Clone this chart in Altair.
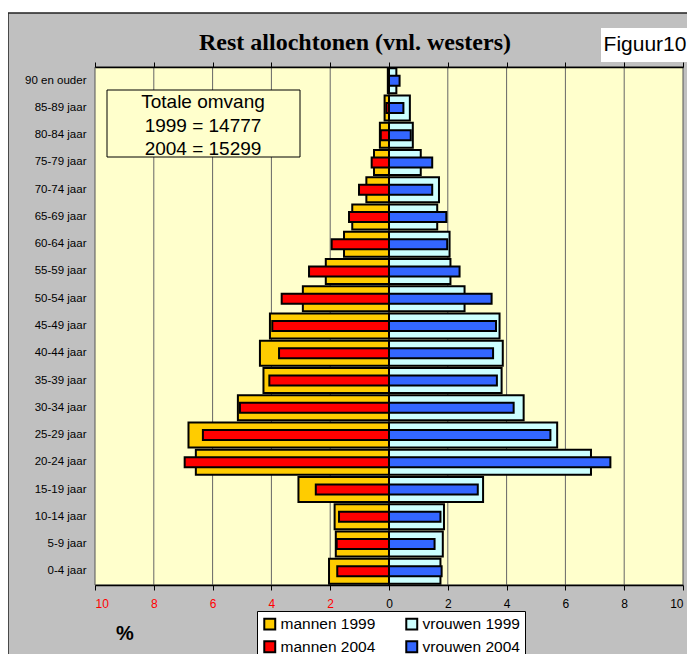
import altair as alt
import pandas as pd

# ---------------- data ----------------
categories = ["0-4 jaar", "5-9 jaar", "10-14 jaar", "15-19 jaar", "20-24 jaar",
              "25-29 jaar", "30-34 jaar", "35-39 jaar", "40-44 jaar", "45-49 jaar",
              "50-54 jaar", "55-59 jaar", "60-64 jaar", "65-69 jaar", "70-74 jaar",
              "75-79 jaar", "80-84 jaar", "85-89 jaar", "90 en ouder"]
mannen_1999 = [2.04, 1.81, 1.85, 3.08, 6.57, 6.82, 5.14, 4.27, 4.39, 4.05,
               2.93, 2.15, 1.53, 1.25, 0.77, 0.51, 0.31, 0.15, 0.04]
mannen_2004 = [1.76, 1.78, 1.70, 2.49, 6.95, 6.33, 5.07, 4.07, 3.74, 3.97,
               3.65, 2.72, 1.95, 1.36, 1.02, 0.59, 0.28, 0.09, 0.03]
vrouwen_1999 = [1.75, 1.83, 1.87, 3.20, 6.87, 5.72, 4.58, 3.83, 3.87, 3.76,
                2.57, 2.09, 2.06, 1.64, 1.70, 1.08, 0.81, 0.71, 0.25]
vrouwen_2004 = [1.79, 1.55, 1.75, 3.02, 7.53, 5.49, 4.24, 3.67, 3.54, 3.64,
                3.49, 2.40, 1.98, 1.95, 1.47, 1.47, 0.74, 0.49, 0.36]
# legend order (filled column by column): mannen in column 1, vrouwen in column 2
series_names = ["mannen 1999", "mannen 2004", "vrouwen 1999", "vrouwen 2004"]
series_colors = ["#FFCC00", "#FF0000", "#CCFFFF", "#3366FF"]
tick_values = [-10, -8, -6, -4, -2, 0, 2, 4, 6, 8, 10]
grid_values = [-8, -6, -4, -2, 2, 4, 6, 8]
title_text = "Rest allochtonen (vnl. westers)"
figure_label = "Figuur10"
box_lines = ["Totale omvang", "1999 = 14777", "2004 = 15299"]

# ---------------- tables ----------------
rows99, rows04 = [], []
for i, c in enumerate(categories):
    rows99.append({"cat": c, "value": -mannen_1999[i], "series": "mannen 1999"})
    rows99.append({"cat": c, "value": vrouwen_1999[i], "series": "vrouwen 1999"})
    rows04.append({"cat": c, "value": -mannen_2004[i], "series": "mannen 2004"})
    rows04.append({"cat": c, "value": vrouwen_2004[i], "series": "vrouwen 2004"})
df99 = pd.DataFrame(rows99)
df04 = pd.DataFrame(rows04)
grid_df = pd.DataFrame({"g": grid_values})
one = pd.DataFrame({"k": [0]})

W, H = 588, 518
FONT = "Liberation Sans"
order = list(reversed(categories))

xscale = alt.Scale(domain=[-10, 10], nice=False, zero=False)
yscale = alt.Scale(paddingInner=0, paddingOuter=0)
cscale = alt.Scale(domain=series_names, range=series_colors)

bottom_axis = alt.Axis(
    values=tick_values, labelExpr="abs(datum.value)", title=None,
    grid=False, ticks=True, tickSize=5, tickColor="black", tickWidth=1,
    domain=True, domainColor="black", domainWidth=1.5,
    labelFont=FONT, labelFontSize=12, labelPadding=8,
    labelColor={"condition": {"test": "datum.value < 0", "value": "#FF0000"}, "value": "black"},
    zindex=1, orient="bottom",
)
top_axis = alt.Axis(
    values=tick_values, labels=False, title=None, grid=False,
    ticks=True, tickSize=5, tickColor="black", tickWidth=1,
    domain=True, domainColor="black", domainWidth=1.5, zindex=1, orient="top",
)
y_axis = alt.Axis(title=None, ticks=False, domain=False, labelFont=FONT,
                  labelFontSize=11.5, labelColor="black", labelPadding=9, zindex=1)

frame = alt.Chart(one).mark_rect(fill="#C0C0C0", stroke="#222222", strokeWidth=1.5).encode(
    x=alt.value(-87), x2=alt.value(620), y=alt.value(-54), y2=alt.value(620))
plot_bg = alt.Chart(one).mark_rect(fill="#FFFFCC", stroke="#555555", strokeWidth=1).encode(
    x=alt.value(0), x2=alt.value(W), y=alt.value(0), y2=alt.value(H))
grid = alt.Chart(grid_df).mark_rule(color="#666666", strokeWidth=1).encode(
    x=alt.X("g:Q", scale=xscale, axis=top_axis))

legend = alt.Legend(
    title=None, orient="none", legendX=162, legendY=544, columns=2,
    symbolType="square", symbolSize=120, symbolStrokeColor="black", symbolStrokeWidth=2,
    labelFont=FONT, labelFontSize=15.5, labelColor="black", labelOffset=3,
    fillColor="white", strokeColor="black", padding=5, rowPadding=3, columnPadding=26,
    zindex=1,
)

bars99 = alt.Chart(df99).mark_bar(size=25, stroke="black", strokeWidth=2).encode(
    x=alt.X("value:Q", scale=xscale, axis=bottom_axis),
    y=alt.Y("cat:N", sort=order, scale=yscale, axis=y_axis),
    color=alt.Color("series:N", scale=cscale, legend=legend),
)
bars04 = alt.Chart(df04).mark_bar(size=10, stroke="black", strokeWidth=2).encode(
    x=alt.X("value:Q", scale=xscale, axis=None),
    y=alt.Y("cat:N", sort=order, scale=yscale, axis=None),
    color=alt.Color("series:N", scale=cscale, legend=legend),
)

def label(text, x, y, size, font=FONT, weight="normal"):
    return alt.Chart(one).mark_text(text=text, font=font, fontSize=size, fontWeight=weight,
                                    color="black", baseline="middle", align="center").encode(
        x=alt.value(x), y=alt.value(y))

title = label(title_text, 260, -24, 24, font="Liberation Serif", weight="bold")
fig_box = alt.Chart(one).mark_rect(fill="white").encode(
    x=alt.value(506), x2=alt.value(595), y=alt.value(-39), y2=alt.value(-5))
fig_text = label(figure_label, 550, -22, 21)
info_box = alt.Chart(one).mark_rect(fill="#FFFFCC", stroke="black", strokeWidth=1).encode(
    x=alt.value(12), x2=alt.value(205), y=alt.value(23), y2=alt.value(90))
info1 = label(box_lines[0], 108, 35, 19)
info2 = label(box_lines[1], 108, 59, 19)
info3 = label(box_lines[2], 108, 82, 19)
pct = label("%", 30, 567, 20, weight="bold")

chart = alt.layer(frame, plot_bg, grid, bars99, bars04, title, fig_box, fig_text,
                  info_box, info1, info2, info3, pct
).resolve_axis(x="independent", y="independent").resolve_scale(y="independent").properties(
    width=W, height=H,
    autosize=alt.AutoSizeParams(type="none"),
    padding={"left": 87, "top": 59, "right": 4, "bottom": 69},
    background="white",
).configure_view(stroke=None)

chart.save("out.html", embed_options={"renderer": "svg", "actions": False})
